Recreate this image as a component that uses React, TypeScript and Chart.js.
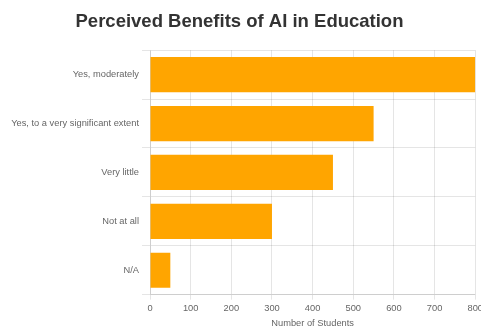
import React, { useEffect, useRef } from 'react';
import { Chart, registerables } from 'chart.js';

Chart.register(...registerables);

const categories = [
  'Yes, moderately',
  'Yes, to a very significant extent',
  'Very little',
  'Not at all',
  'N/A',
];
const students = [800, 550, 450, 300, 50];
const xMin = 0;
const xMax = 800;
const xStep = 100;

const FONT = "'Liberation Sans', Arial, Helvetica, sans-serif";

export default function App() {
  const ref = useRef<HTMLCanvasElement | null>(null);

  useEffect(() => {
    if (!ref.current) return;
    const chart = new Chart(ref.current, {
      type: 'bar',
      data: {
        labels: categories,
        datasets: [
          {
            label: 'Number of Students',
            data: students,
            backgroundColor: '#FFA500',
            borderWidth: 0,
          },
        ],
      },
      options: {
        indexAxis: 'y',
        responsive: false,
        animation: false,
        layout: { padding: 0 },
        plugins: {
          legend: { display: false },
          tooltip: { enabled: false },
          title: {
            display: true,
            text: 'Perceived Benefits of AI in Education',
            color: '#333',
            font: { family: FONT, size: 18.5, weight: 'bold' },
            padding: { top: 11, bottom: 17 },
          },
        },
        scales: {
          x: {
            min: xMin,
            max: xMax,
            ticks: {
              stepSize: xStep,
              color: '#666',
              padding: 3,
              font: { family: FONT, size: 9.3 },
            },
            grid: { color: 'rgba(0,0,0,0.1)', tickLength: 5 },
            title: {
              display: true,
              text: 'Number of Students',
              color: '#666',
              font: { family: FONT, size: 9.3 },
              padding: { top: 1, bottom: 0 },
            },
          },
          y: {
            ticks: {
              color: '#666',
              padding: 3,
              font: { family: FONT, size: 9.3 },
            },
            grid: { color: 'rgba(0,0,0,0.1)', tickLength: 8 },
            afterFit: (scale: any) => {
              scale.width = 157;
            },
          },
        },
      },
    });
    return () => chart.destroy();
  }, []);

  return (
    <div
      style={{
        position: 'absolute',
        left: 0,
        top: 0,
        width: 481,
        height: 327,
        overflow: 'hidden',
        background: '#fff',
      }}
    >
      <canvas
        ref={ref}
        width={493}
        height={329}
        style={{ position: 'absolute', left: -7, top: 0 }}
      />
    </div>
  );
}
